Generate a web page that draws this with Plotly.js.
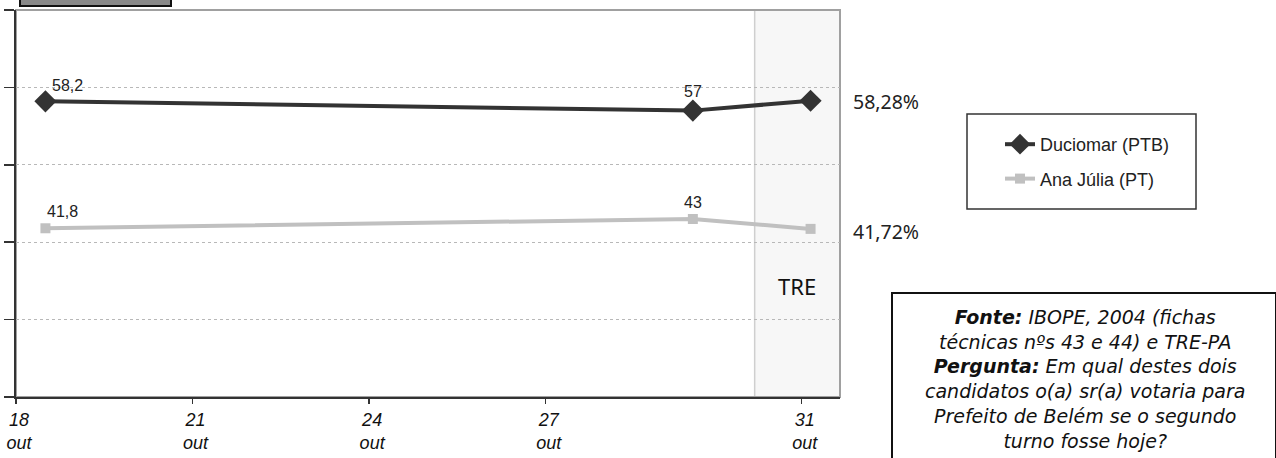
<!DOCTYPE html>
<html>
<head>
<meta charset="utf-8">
<script src="https://cdn.plot.ly/plotly-3.0.1.min.js"></script>
<style>html,body{margin:0;padding:0;background:#fff}#chart{width:1276px;height:458px}</style>
</head>
<body>
<div id="chart"></div>
<script>
// ---- data ----
const days = [18.5, 29.5, 31.5];            // two IBOPE polls + TRE result
const duciomar = [58.2, 57, 58.28];
const anaJulia = [41.8, 43, 41.72];
const seriesNames = ['Duciomar (PTB)', 'Ana Júlia (PT)'];
const tickDays = [18, 21, 24, 27, 31.35];
const tickLabels = ['18<br>out', '21<br>out', '24<br>out', '27<br>out', '31<br>out'];
const treBand = [30.55, 32];
const treLabel = 'TRE';
const sourceLines = [
  '<b>Fonte:</b> IBOPE, 2004 (fichas',
  'técnicas nºs 43 e 44) e TRE-PA',
  '<b>Pergunta:</b> Em qual destes dois',
  'candidatos o(a) sr(a) votaria para',
  'Prefeito de Belém se o segundo',
  'turno fosse hoje?'
];

const fmt = v => String(v).replace('.', ',');
const fmtPct = v => v.toFixed(2).replace('.', ',') + '%';

const W = 1276, H = 458;
const M = {l: 16, r: 436, t: 10, b: 61};
const pw = W - M.l - M.r, ph = H - M.t - M.b;
const px = x => (x - M.l) / pw;           // pixel -> paper x
const py = y => (H - M.b - y) / ph;        // pixel -> paper y

const labelFont = {family: 'Liberation Sans, Arial, sans-serif', size: 16, color: '#222'};
const pctFont = {family: 'Noto Sans, sans-serif', size: 19.5, color: '#222'};

const traces = [
  {
    x: days, y: duciomar, name: seriesNames[0], type: 'scatter', mode: 'lines+markers',
    line: {color: '#333333', width: 4},
    marker: {symbol: 'diamond', size: 17, color: '#333333'},
    cliponaxis: false, legendgroup: 'a'
  },
  {
    x: days, y: anaJulia, name: seriesNames[1], type: 'scatter', mode: 'lines+markers',
    line: {color: '#c0c0c0', width: 4},
    marker: {symbol: 'square', size: 10, color: '#c0c0c0'},
    cliponaxis: false, legendgroup: 'b'
  }
];

const last = days.length - 1;
const annotations = [];
// poll value labels (all points except the final TRE result)
[[duciomar, 5, 16], [anaJulia, 0, 17]].forEach(([arr, firstShift, lift]) => {
  arr.forEach((v, i) => {
    if (i === last) return;
    annotations.push({
      x: days[i], y: v, xref: 'x', yref: 'y', text: fmt(v), showarrow: false,
      xanchor: i === 0 ? 'left' : 'center', yanchor: 'middle',
      xshift: i === 0 ? firstShift : 0, yshift: i === 0 ? lift : (arr === duciomar ? 19 : 16.5),
      font: labelFont
    });
  });
});
// TRE result labels
annotations.push(
  {x: days[last], y: duciomar[last], xref: 'x', yref: 'y', text: fmtPct(duciomar[last]),
   showarrow: false, xanchor: 'left', yanchor: 'middle', xshift: 40, yshift: -1, font: pctFont},
  {x: days[last], y: anaJulia[last], xref: 'x', yref: 'y', text: fmtPct(anaJulia[last]),
   showarrow: false, xanchor: 'left', yanchor: 'middle', xshift: 40, yshift: -3, font: pctFont},
  {x: (treBand[0] + treBand[1]) / 2, y: py(286), xref: 'x', yref: 'paper', text: treLabel, showarrow: false,
   xanchor: 'center', yanchor: 'middle',
   font: {family: 'Noto Sans, sans-serif', size: 22, color: '#111'}},
  {x: px(1085), y: py(304), xref: 'paper', yref: 'paper', xanchor: 'center', yanchor: 'top', align: 'center',
   text: sourceLines.join('<br>'), showarrow: false,
   font: {family: 'DejaVu Sans, sans-serif', size: 19, color: '#111', style: 'italic'}}
);

const shapes = [
  {type: 'rect', xref: 'x', yref: 'paper', x0: treBand[0], x1: treBand[1], y0: 0, y1: 1,
   fillcolor: '#f7f7f7', line: {color: '#cfcfcf', width: 1.5}, layer: 'between'},
  {type: 'rect', xref: 'paper', yref: 'paper', x0: 0, x1: 1, y0: 0, y1: 1,
   fillcolor: 'rgba(0,0,0,0)', line: {color: '#a0a0a0', width: 2}, layer: 'between'},
  // legend frame
  {type: 'rect', xref: 'paper', yref: 'paper', x0: px(967), x1: px(1196), y0: py(209), y1: py(114),
   fillcolor: '#fff', line: {color: '#333', width: 1.5}, layer: 'below'},
  // source box
  {type: 'rect', xref: 'paper', yref: 'paper', x0: px(892), x1: px(1276), y0: py(470), y1: py(293),
   fillcolor: '#fff', line: {color: '#111', width: 2}, layer: 'below'},
  // clipped title box at top-left
  {type: 'rect', xref: 'paper', yref: 'paper', x0: px(20), x1: px(171), y0: py(6), y1: py(-20),
   fillcolor: '#888888', line: {color: '#111', width: 2}, layer: 'below'}
];

const layout = {
  width: W, height: H,
  margin: {l: M.l, r: M.r, t: M.t, b: M.b, autoexpand: false},
  paper_bgcolor: '#fff', plot_bgcolor: '#fff',
  showlegend: true,
  legend: {x: px(1000), y: py(126), xanchor: 'left', yanchor: 'top', bgcolor: 'rgba(0,0,0,0)',
           borderwidth: 0, traceorder: 'grouped', tracegroupgap: 8,
           font: {family: 'Liberation Sans, Arial, sans-serif', size: 18, color: '#222'}},
  xaxis: {range: [18, 32], tickmode: 'array', tickvals: tickDays, ticktext: tickLabels,
          showgrid: false, zeroline: false, showline: true, linecolor: '#333', linewidth: 2,
          ticks: 'outside', ticklen: 5, tickcolor: '#333', tickwidth: 1.5, ticklabelshift: 3,
          tickfont: {family: 'Liberation Sans, Arial, sans-serif', size: 18, color: '#111', style: 'italic'},
          fixedrange: true},
  yaxis: {range: [20, 70], dtick: 10, tick0: 20, showticklabels: false, zeroline: false,
          showline: true, linecolor: '#333', linewidth: 2, ticks: 'outside', ticklen: 10,
          tickcolor: '#333', tickwidth: 1.5,
          showgrid: true, gridcolor: '#b8b8b8', gridwidth: 1, griddash: 'dot', fixedrange: true},
  shapes: shapes,
  annotations: annotations
};

Plotly.newPlot('chart', traces, layout, {displayModeBar: false, staticPlot: true});
</script>
</body>
</html>
